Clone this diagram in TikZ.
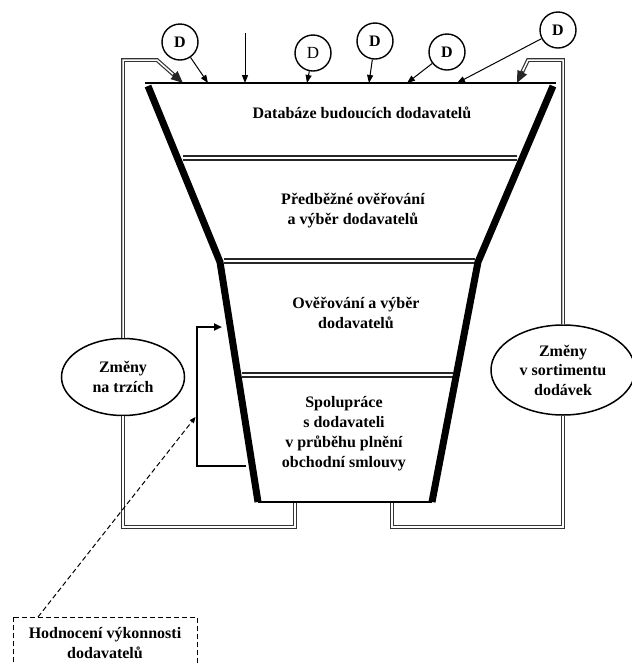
\documentclass[tikz,border=0pt]{standalone}
\usepackage{fontspec}
\setmainfont{Liberation Serif}
\usetikzlibrary{arrows.meta,calc,shapes.geometric}
\begin{document}
\begin{tikzpicture}[x=1pt,y=-1pt,
  txt/.style={font=\fontsize{16}{20}\selectfont\bfseries, align=center, inner sep=0pt},
  edgeline/.style={line width=7pt, line join=round},
  divider/.style={double=white, double distance=2pt, line width=1.7pt, draw=black!85},
  frameline/.style={double=white, double distance=1.5pt, line width=1.2pt, draw=black!80},
  dcirc/.style={circle, draw, line width=1.4pt, minimum size=36pt, inner sep=0pt, fill=white,
                font=\fontsize{16}{20}\selectfont\bfseries},
  darr/.style={line width=1pt, -{Triangle[length=8pt,width=6pt]}},
  farr/.style={-{Triangle[length=12pt,width=10pt]}, line width=2.4pt, draw=black!85},
  oval/.style={ellipse, draw, line width=1.5pt, fill=white, inner sep=0pt, align=center,
               font=\fontsize{16}{19.5}\selectfont\bfseries},
  dash5/.style={dash pattern=on 5pt off 3pt, line width=1pt}
]
\useasboundingbox (0,0) rectangle (632,665);
\clip (0,0) rectangle (632,665);

% funnel geometry
\coordinate (TL) at (145,83);
\coordinate (TR) at (556,83);
\coordinate (LT) at (148,86);
\coordinate (LB1) at (220,262);
\coordinate (LB) at (258,502);
\coordinate (RT) at (553,86);
\coordinate (RB1) at (478,262);
\coordinate (RB) at (432,502);

% outer feedback loops (behind)
\node[oval, minimum width=123pt, minimum height=77pt] (ZL) at (123,377) {Změny\\na trzích};
\node[oval, minimum width=144pt, minimum height=90pt] (ZR) at (563,370) {Změny\\v sortimentu\\dodávek};

\coordinate (la) at (295,502);
\coordinate (lb) at (295,527);
\coordinate (lc) at (123,527);
\coordinate (ld) at (123,60);
\coordinate (le) at (157,60);
\coordinate (lt) at (183,83);
\draw[frameline] (la) -- (lb) -- (lc) -- (ZL.south);
\draw[frameline, shorten >=9pt] (ZL.north) -- (ld) -- (le) -- (lt);
\draw[farr] ($(lt)!13pt!(le)$) -- (lt);

\coordinate (ra) at (392,502);
\coordinate (rb) at (392,527);
\coordinate (rc) at (563,527);
\coordinate (rd) at (563,60);
\coordinate (re) at (528,60);
\coordinate (rt) at (517,83);
\draw[frameline] (ra) -- (rb) -- (rc) -- (ZR.south);
\draw[frameline, shorten >=9pt] (ZR.north) -- (rd) -- (re) -- (rt);
\draw[farr] ($(rt)!13pt!(re)$) -- (rt);

% funnel
\draw[line width=1.8pt] (TL) -- (TR);
\draw[line width=2pt] (LB) -- (RB);
\draw[divider] (183,158) -- (517,158);
\draw[divider] (224,261) -- (475,261);
\draw[divider] (242,375) -- (453,375);
\draw[edgeline] (LT) -- (LB1) -- (LB);
\draw[edgeline] (RT) -- (RB1) -- (RB);

% stage texts
\node[txt] (S1) at (362,113) {Databáze budoucích dodavatelů};
\node[txt] (S2) at (353,211) {Předběžné ověřování\\a výběr dodavatelů};
\node[txt] (S3) at (356,313) {Ověřování a výběr\\dodavatelů};
\node[txt] (S4) at (344,434) {Spolupráce\\s dodavateli\\v průběhu plnění\\obchodní smlouvy};

% suppliers D
\node[dcirc] (D1) at (180,42) {D};
\node[dcirc, font=\fontsize{17}{20}\selectfont] (D2) at (313,53) {D};
\node[dcirc] (D3) at (375,41) {D};
\node[dcirc] (D4) at (447,52) {D};
\node[dcirc] (D5) at (558,30) {D};
\coordinate (t1) at (208,83);
\coordinate (s0) at (245,33);
\coordinate (t0) at (245,83);
\coordinate (t2) at (307,83);
\coordinate (t3) at (369,83);
\coordinate (t4) at (407,83);
\coordinate (t5) at (457,83);
\draw[darr] (D1) -- (t1);
\draw[darr] (s0) -- (t0);
\draw[darr] (D2) -- (t2);
\draw[darr] (D3) -- (t3);
\draw[darr] (D4) -- (t4);
\draw[darr] (D5) -- (t5);

% inner feedback
\coordinate (f1) at (246,466);
\coordinate (f2) at (197,466);
\coordinate (f3) at (197,327);
\coordinate (f4) at (222,327);
\draw[line width=2.2pt, -{Triangle[length=8pt,width=7pt]}] (f1) -- (f2) -- (f3) -- (f4);

% performance evaluation box
\coordinate (hb1) at (13,617);
\coordinate (hb2) at (197,700);
\coordinate (htop) at (38,617);
\coordinate (hit) at (195.5,417);
\draw[dash5] (hb1) rectangle (hb2);
\node[txt] (HV) at (105,643) {Hodnocení výkonnosti\\dodavatelů};
\draw[dash5, -{Triangle[length=6pt,width=5pt,fill=black]}] (htop) -- (hit);
\end{tikzpicture}
\end{document}
